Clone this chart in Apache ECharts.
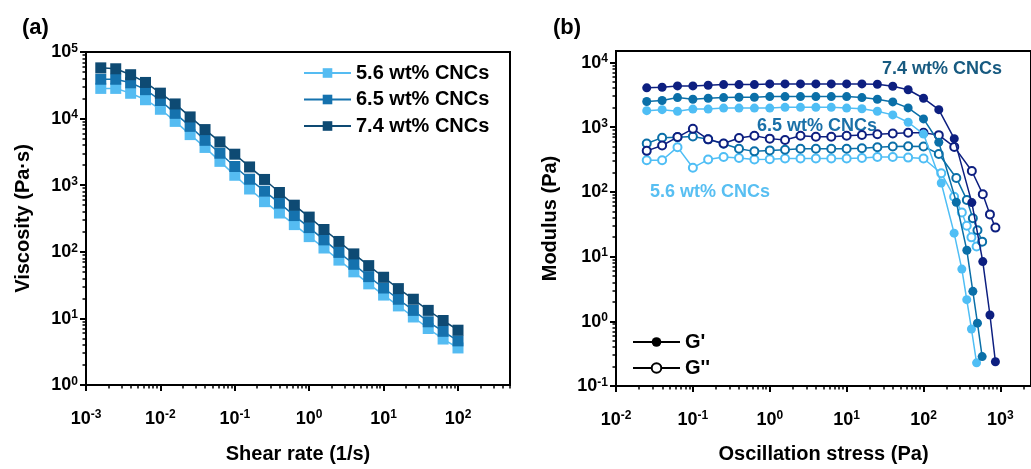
<!DOCTYPE html>
<html><head><meta charset="utf-8">
<script src="https://cdn.jsdelivr.net/npm/echarts@6/dist/echarts.min.js"></script>
<style>html,body{margin:0;padding:0;background:#fff}#c{width:1031px;height:469px}</style>
</head><body><div id="c"></div>
<script>
// ---------- Panel (a): viscosity vs shear rate ----------
const shearRate = [0.00158, 0.00251, 0.00398, 0.00631, 0.01, 0.0158, 0.0251, 0.0398, 0.0631, 0.1, 0.158, 0.251, 0.398, 0.631, 1, 1.58, 2.51, 3.98, 6.31, 10, 15.8, 25.1, 39.8, 63.1, 100];
const visc56 = [28400, 28400, 24000, 19200, 13800, 9080, 5750, 3690, 2280, 1410, 877, 566, 382, 256, 169, 114, 75, 50, 33, 22.4, 15.4, 10.5, 7.05, 4.9, 3.6];
const visc65 = [39000, 39000, 34500, 27200, 18700, 12000, 7650, 4720, 3020, 1910, 1230, 813, 537, 350, 231, 151, 98, 65, 42.4, 28.6, 19.4, 13.2, 8.9, 6.4, 4.6];
const visc74 = [57800, 56000, 45600, 34900, 24100, 16600, 10600, 6840, 4470, 2920, 1880, 1220, 777, 501, 332, 216, 143, 93, 62, 41.5, 28, 19.4, 13.2, 9.3, 6.65];
const namesA = ['5.6 wt% CNCs', '6.5 wt% CNCs', '7.4 wt% CNCs'];

// ---------- Panel (b): modulus vs oscillation stress ----------
const stress56 = [0.0251, 0.0398, 0.0631, 0.1, 0.158, 0.251, 0.398, 0.631, 1, 1.58, 2.51, 3.98, 6.31, 10, 15.8, 25.1, 39.8, 63.1, 100, 170, 250, 315, 365, 420, 490];
const gp56  = [1795, 1860, 1758, 1900, 1900, 1970, 1970, 1970, 1970, 2020, 2020, 2020, 2020, 1970, 1920, 1758, 1545, 1190, 780, 137, 23, 6.4, 2.16, 0.76, 0.228];
const gpp56 = [308, 308, 490, 236, 315, 346, 334, 315, 319, 327, 327, 327, 327, 327, 334, 346, 346, 338, 327, 194, 84, 48, 30, 19.8, 14.3];
const stress65 = [0.0251, 0.0398, 0.0631, 0.1, 0.158, 0.251, 0.398, 0.631, 1, 1.58, 2.51, 3.98, 6.31, 10, 15.8, 25.1, 39.8, 63.1, 100, 158, 267, 366, 438, 503, 579];
const gp65  = [2490, 2575, 2860, 2690, 2790, 2860, 2890, 2890, 2960, 2960, 2960, 2960, 2960, 2960, 2860, 2690, 2450, 1980, 1340, 583, 69, 12.5, 2.9, 0.935, 0.285];
const gpp65 = [557, 687, 700, 718, 647, 553, 462, 422, 437, 446, 462, 462, 462, 462, 473, 490, 502, 507, 502, 385, 164, 75, 39, 25.5, 17];
const stress74 = [0.0251, 0.0398, 0.0631, 0.1, 0.158, 0.251, 0.398, 0.631, 1, 1.58, 2.51, 3.98, 6.31, 10, 15.8, 25.1, 39.8, 63.1, 100, 158, 251, 425, 590, 731, 861];
const gp74  = [4045, 4130, 4335, 4335, 4440, 4540, 4540, 4540, 4650, 4650, 4650, 4650, 4650, 4650, 4650, 4590, 4280, 3775, 2790, 1860, 664, 68.2, 8.37, 1.25, 0.237];
const gpp74 = [430, 520, 702, 940, 647, 557, 678, 737, 664, 632, 737, 711, 711, 737, 757, 778, 798, 817, 817, 752, 495, 210, 92, 44.8, 28];
const namesB = ["G'", "G''"];
const labelsB = ['7.4 wt% CNCs', '6.5 wt% CNCs', '5.6 wt% CNCs'];

// ---------- tick values ----------
const xMajorA = [0.001, 0.01, 0.1, 1, 10, 100];
const yMajorA = [1, 10, 100, 1000, 10000, 100000];
const xMajorB = [0.01, 0.1, 1, 10, 100, 1000];
const yMajorB = [0.1, 1, 10, 100, 1000, 10000];

function minors(majors, max) {
  const out = [];
  majors.forEach(m => { for (let k = 2; k <= 9; k++) { const v = +(m * k).toPrecision(3); if (v <= max) out.push(v); } });
  return out;
}

const FONT = '"Liberation Sans", Arial, sans-serif';
const colA = ['#55BCF2', '#1572AE', '#0E4A73'];
const colB = ['#4FBEF5', '#0A6FA8', '#0D1F80'];

const rich = {
  b: { fontSize: 18, fontWeight: 'bold', fontFamily: FONT, color: '#000', lineHeight: 19, verticalAlign: 'bottom' },
  s: { fontSize: 12, fontWeight: 'bold', fontFamily: FONT, color: '#000', verticalAlign: 'top', lineHeight: 11 }
};
const fmt = v => '{b|10}{s|' + Math.round(Math.log10(v)) + '}';

function axisPair(dim, gridIndex, min, max, majors, name, nameGap, margin) {
  const pos = dim === 'x' ? 'bottom' : 'left';
  const major = {
    type: 'log', logBase: 10, gridIndex, min, max, position: pos,
    axisLine: { show: true, onZero: false, lineStyle: { color: '#000', width: 2 } },
    axisTick: { show: true, inside: false, length: 6, lineStyle: { color: '#000', width: 2 }, customValues: majors },
    minorTick: { show: false },
    axisLabel: { show: true, customValues: majors, formatter: fmt, rich, margin },
    splitLine: { show: false },
    name, nameLocation: 'middle', nameGap,
    nameTextStyle: { fontSize: 20, fontWeight: 'bold', fontFamily: FONT, color: '#000' }
  };
  const minor = {
    type: 'log', logBase: 10, gridIndex, min, max, position: pos,
    axisLine: { show: false, onZero: false },
    axisTick: { show: true, inside: false, length: 3.5, lineStyle: { color: '#000', width: 1.5 }, customValues: minors(majors, max) },
    minorTick: { show: false },
    axisLabel: { show: false },
    splitLine: { show: false }
  };
  return [major, minor];
}

const xAxes = [
  ...axisPair('x', 0, 0.001, 500, xMajorA, 'Shear rate (1/s)', 59, 24),
  ...axisPair('x', 1, 0.01, 2500, xMajorB, 'Oscillation stress (Pa)', 58, 24)
];
const yAxes = [
  ...axisPair('y', 0, 1, 100000, yMajorA, 'Viscosity (Pa·s)', 53, 8),
  ...axisPair('y', 1, 0.1, 15000, yMajorB, 'Modulus (Pa)', 56, 8)
];

const zip = (xs, ys) => xs.map((x, i) => [x, ys[i]]);

const series = [];
[visc56, visc65, visc74].forEach((vals, i) => {
  series.push({
    type: 'line', name: namesA[i], xAxisIndex: 0, yAxisIndex: 0,
    data: zip(shearRate, vals), symbol: 'rect', symbolSize: 11,
    lineStyle: { color: colA[i], width: 1.5 }, itemStyle: { color: colA[i] },
    emphasis: { disabled: true }, animation: false
  });
});
const bSets = [[stress56, gp56, gpp56], [stress65, gp65, gpp65], [stress74, gp74, gpp74]];
bSets.forEach((s, i) => {
  series.push({
    type: 'line', name: 'Gpp ' + labelsB[2 - i], xAxisIndex: 2, yAxisIndex: 2,
    data: zip(s[0], s[2]), symbol: 'circle', symbolSize: 8,
    lineStyle: { color: colB[i], width: 1.5 },
    itemStyle: { color: '#fff', borderColor: colB[i], borderWidth: 2 },
    emphasis: { disabled: true }, animation: false, z: 2
  });
  series.push({
    type: 'line', name: 'Gp ' + labelsB[2 - i], xAxisIndex: 2, yAxisIndex: 2,
    data: zip(s[0], s[1]), symbol: 'circle', symbolSize: 9,
    lineStyle: { color: colB[i], width: 1.5 },
    itemStyle: { color: colB[i] },
    emphasis: { disabled: true }, animation: false, z: 3
  });
});
// legend-only entries for panel (b)
series.push({ type: 'line', name: namesB[0], xAxisIndex: 2, yAxisIndex: 2, data: [], symbol: 'circle', symbolSize: 9,
  lineStyle: { color: '#000', width: 1.5 }, itemStyle: { color: '#000' } });
series.push({ type: 'line', name: namesB[1], xAxisIndex: 2, yAxisIndex: 2, data: [], symbol: 'circle', symbolSize: 9,
  lineStyle: { color: '#000', width: 1.5 }, itemStyle: { color: '#fff', borderColor: '#000', borderWidth: 2 } });

const legendText = { fontSize: 20, fontWeight: 'bold', fontFamily: FONT, color: '#000', lineHeight: 20 };

const option = {
  backgroundColor: '#fff',
  animation: false,
  grid: [
    { left: 86, top: 52, width: 424, height: 342, show: true, borderColor: '#000', borderWidth: 2, backgroundColor: 'transparent' },
    { left: 616, top: 51, width: 417, height: 343, show: true, borderColor: '#000', borderWidth: 2, backgroundColor: 'transparent' }
  ],
  xAxis: xAxes,
  yAxis: yAxes,
  legend: [
    { data: namesA, orient: 'vertical', left: 303, top: 63, itemWidth: 47, itemHeight: 12, itemGap: 6.5,
      textStyle: legendText, selectedMode: false, padding: 0 },
    { data: namesB, orient: 'vertical', left: 632, top: 332, itemWidth: 47, itemHeight: 12, itemGap: 6,
      textStyle: legendText, selectedMode: false, padding: 0 }
  ],
  graphic: [
    { type: 'text', x: 22, y: 28, style: { text: '(a)', fontSize: 22, fontWeight: 'bold', fontFamily: FONT, fill: '#000', verticalAlign: 'middle' } },
    { type: 'text', x: 553, y: 28, style: { text: '(b)', fontSize: 22, fontWeight: 'bold', fontFamily: FONT, fill: '#000', verticalAlign: 'middle' } },
    { type: 'text', x: 882, y: 69, style: { text: labelsB[0], fontSize: 18, fontWeight: 'bold', fontFamily: FONT, fill: '#175A80', verticalAlign: 'middle' } },
    { type: 'text', x: 757, y: 126, style: { text: labelsB[1], fontSize: 18, fontWeight: 'bold', fontFamily: FONT, fill: '#1A70A8', verticalAlign: 'middle' } },
    { type: 'text', x: 650, y: 192, style: { text: labelsB[2], fontSize: 18, fontWeight: 'bold', fontFamily: FONT, fill: '#58BFF2', verticalAlign: 'middle' } }
  ],
  series
};
const chart = echarts.init(document.getElementById('c'), null, { renderer: 'canvas' });
chart.setOption(option);
</script></body></html>
